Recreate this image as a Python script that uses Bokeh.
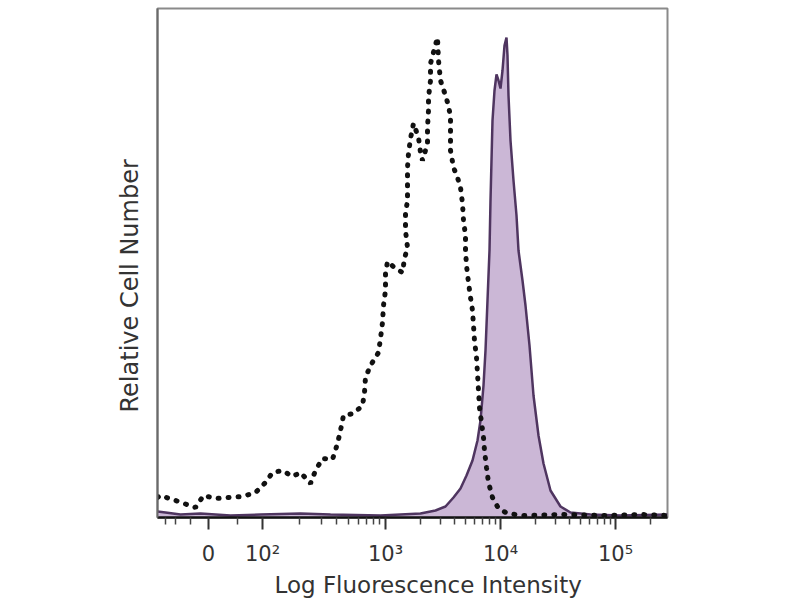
import math
from bokeh.plotting import figure
from bokeh.models import Range1d, FixedTicker, Title
from bokeh.embed import file_html
from bokeh.resources import INLINE

# Display channel (0-1020) vs relative cell count
iso_x = [0, 6, 36, 76, 92, 116, 142, 170, 196, 216, 230, 250, 270, 286, 306, 316, 330, 350,
         360, 366, 372, 392, 410, 414, 416, 426, 442, 446, 450, 452, 456, 456, 460, 476, 490,
         494, 500, 496, 496, 500, 500, 500, 502, 506, 512, 522, 526, 530, 540, 540, 542, 542,
         546, 546, 554, 560, 562, 566, 574, 582, 586, 586, 586, 592, 600, 606, 610, 612, 616,
         616, 618, 622, 626, 630, 632, 634, 638, 640, 642, 644, 648, 652, 654, 658, 662, 670,
         682, 700, 732, 806, 886, 966, 1020]
iso_y = [40, 44, 34, 20, 44, 38, 40, 42, 50, 70, 90, 94, 82, 90, 68, 94, 118, 116,
         148, 174, 204, 208, 224, 250, 280, 304, 330, 358, 390, 424, 454, 488, 512, 498, 490,
         518, 540, 574, 608, 634, 668, 700, 728, 758, 788, 760, 730, 714, 748, 780, 814, 840,
         874, 908, 938, 960, 914, 874, 850, 824, 800, 768, 734, 700, 680, 660, 628, 594, 564,
         534, 504, 470, 440, 414, 384, 354, 320, 288, 254, 220, 190, 160, 134, 100, 70, 40,
         18, 8, 4, 6, 4, 6, 4]

stain_x = [0, 16, 46, 86, 146, 206, 286, 346, 446, 526, 556, 576, 592, 606, 618, 630, 640,
           646, 652, 656, 660, 664, 666, 668, 670, 674, 678, 682, 686, 690, 694, 698, 700,
           702, 706, 712, 718, 722, 730, 736, 744, 752, 762, 772, 786, 806, 826, 866, 926, 1020]
stain_y = [12, 10, 6, 8, 4, 6, 8, 6, 4, 8, 14, 22, 40, 58, 84, 114, 154,
           194, 264, 334, 434, 534, 634, 714, 794, 854, 886, 874, 858, 894, 944, 960, 924,
           844, 754, 674, 604, 534, 474, 424, 344, 244, 164, 108, 54, 22, 10, 6, 4, 6]

tick_channels = [102, 210, 456, 686, 916]
tick_labels = ["0", "10\u00b2", "10\u00b3", "10\u2074", "10\u2075"]
low_minor_channels = [16, 36, 66, 160]

x_title = "Log Fluorescence Intensity"
y_title = "Relative Cell Number"

# minor ticks: log-spaced within each decade between major tick channels
minor = list(low_minor_channels)
for i in range(1, 4):
    a, b = tick_channels[i], tick_channels[i + 1]
    for k in range(2, 10):
        minor.append(a + (b - a) * math.log10(k))
for k in range(2, 4):
    c = tick_channels[4] + (tick_channels[4] - tick_channels[3]) * math.log10(k)
    if c < 1020:
        minor.append(c)

p = figure(frame_width=510, frame_height=509, output_backend="svg", toolbar_location=None,
           x_range=Range1d(0, 1020), y_range=Range1d(0, 1018),
           min_border_left=157, min_border_top=8, min_border_right=100, min_border_bottom=10)
p.grid.visible = False
p.outline_line_color = "#8a8a8a"
p.outline_line_width = 2
p.background_fill_color = "white"

p.varea(x=stain_x, y1=0, y2=stain_y, fill_color="#cbb7d6", fill_alpha=1.0)
p.line(stain_x, stain_y, line_color="#4f3560", line_width=2.5)
p.line(iso_x, iso_y, line_color="#111111", line_width=5, line_dash="1 9", line_cap="round")

xa = p.xaxis[0]
xa.ticker = FixedTicker(ticks=tick_channels, minor_ticks=minor)
xa.major_label_overrides = {t: l for t, l in zip(tick_channels, tick_labels)}
xa.axis_line_color = "#111111"
xa.axis_line_width = 2.5
xa.major_tick_line_color = "#333333"
xa.major_tick_line_width = 2
xa.major_tick_in = 0
xa.major_tick_out = 12
xa.minor_tick_line_color = "#444444"
xa.minor_tick_line_width = 1.5
xa.minor_tick_in = 0
xa.minor_tick_out = 7
xa.major_label_standoff = 12
xa.major_label_text_font = "DejaVu Sans"
xa.major_label_text_font_size = "21px"
xa.major_label_text_color = "#333333"

ya = p.yaxis[0]
ya.ticker = FixedTicker(ticks=[])
ya.major_label_text_font_size = "0px"
ya.major_tick_out = 0
ya.minor_tick_out = 0
ya.axis_line_color = "#6a6a6a"
ya.axis_line_width = 2

p.add_layout(Title(text=x_title, align="left", offset=117, standoff=2,
                   text_font="DejaVu Sans", text_font_size="23px", text_font_style="normal",
                   text_color="#333333"), "below")
p.add_layout(Title(text=y_title, align="left", offset=105, standoff=27,
                   text_font="DejaVu Sans", text_font_size="24px", text_font_style="normal",
                   text_color="#333333"), "left")

open("out.html", "w").write(file_html(p, INLINE))
